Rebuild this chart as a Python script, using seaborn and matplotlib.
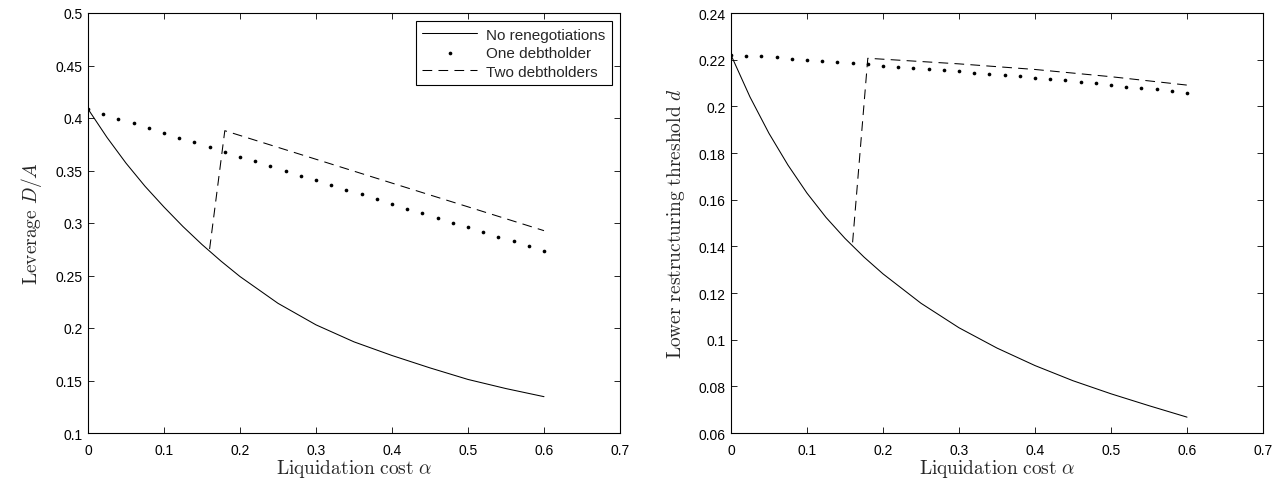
import numpy as np
import pandas as pd
import matplotlib
matplotlib.use("Agg")
import matplotlib.pyplot as plt
from matplotlib.ticker import FuncFormatter
import seaborn as sns

# liquidation cost grid for the smooth "no renegotiation" curves
alpha_smooth = [0.0, 0.025, 0.05, 0.075, 0.10, 0.125, 0.15, 0.175, 0.20,
                0.25, 0.30, 0.35, 0.40, 0.45, 0.50, 0.55, 0.60]
lev_none = [0.4086, 0.3815, 0.3570, 0.3350, 0.3152, 0.2966, 0.2795, 0.2637, 0.2490,
            0.2235, 0.2030, 0.1868, 0.1738, 0.1620, 0.1510, 0.1423, 0.1346]
thr_none = [0.2220, 0.2040, 0.1884, 0.1748, 0.1628, 0.1524, 0.1434, 0.1354, 0.1282,
            0.1156, 0.1051, 0.0964, 0.0889, 0.0824, 0.0768, 0.0717, 0.0668]

# one debtholder: dots every 0.02
alpha_dots = [0.00, 0.02, 0.04, 0.06, 0.08, 0.10, 0.12, 0.14, 0.16, 0.18,
              0.20, 0.22, 0.24, 0.26, 0.28, 0.30, 0.32, 0.34, 0.36, 0.38,
              0.40, 0.42, 0.44, 0.46, 0.48, 0.50, 0.52, 0.54, 0.56, 0.58, 0.60]
lev_one = [0.4086, 0.4038, 0.3994, 0.3949, 0.3905, 0.3857, 0.3813, 0.3768, 0.3724, 0.3676,
           0.3632, 0.3587, 0.3540, 0.3495, 0.3451, 0.3406, 0.3362, 0.3317, 0.3273, 0.3229,
           0.3184, 0.3136, 0.3095, 0.3048, 0.3003, 0.2959, 0.2914, 0.2870, 0.2826, 0.2781, 0.2736]
thr_one = [0.2220, 0.2217, 0.2214, 0.2210, 0.2203, 0.2200, 0.2193, 0.2190, 0.2186, 0.2181,
           0.2174, 0.2170, 0.2164, 0.2160, 0.2156, 0.2150, 0.2144, 0.2139, 0.2134, 0.2129,
           0.2123, 0.2117, 0.2111, 0.2106, 0.2099, 0.2093, 0.2084, 0.2079, 0.2073, 0.2066, 0.2059]

# two debtholders: jump near alpha = 0.16-0.18
alpha_two = [0.16, 0.18, 0.30, 0.40, 0.50, 0.60]
lev_two = [0.2752, 0.3879, 0.3607, 0.3380, 0.3154, 0.2927]
thr_two = [0.1417, 0.2206, 0.2182, 0.2158, 0.2127, 0.2091]

x_ticks = [0, 0.1, 0.2, 0.3, 0.4, 0.5, 0.6, 0.7]
lev_ticks = [0.1, 0.15, 0.2, 0.25, 0.3, 0.35, 0.4, 0.45, 0.5]
thr_ticks = [0.06, 0.08, 0.1, 0.12, 0.14, 0.16, 0.18, 0.2, 0.22, 0.24]

sns.set_style("ticks")
plt.rcParams["font.family"] = ["Liberation Sans", "DejaVu Sans"]
plt.rcParams["mathtext.fontset"] = "cm"
plt.rcParams["lines.scale_dashes"] = False

fig = plt.figure(figsize=(12.77, 4.81), dpi=100)
ax1 = fig.add_axes([88 / 1277, 1 - 434 / 481, 532 / 1277, 420 / 481])
ax2 = fig.add_axes([731 / 1277, 1 - 434 / 481, 532 / 1277, 420 / 481])


def draw_panel(ax, none, one, two, ylim, yticks, ylabel, legend):
    sns.lineplot(x=alpha_smooth, y=none, color="k", lw=0.75, ax=ax,
                 label="No renegotiations", legend=False)
    sns.scatterplot(x=alpha_dots, y=one, color="k", s=7, linewidth=0, ax=ax,
                    label="One debtholder", legend=False)
    sns.lineplot(x=alpha_two, y=two, color="k", lw=0.75, ax=ax,
                 linestyle=(0, (7, 4.5)), label="Two debtholders", legend=False)
    ax.set_xlim(0, 0.7)
    ax.set_ylim(*ylim)
    ax.set_xticks(x_ticks)
    ax.set_yticks(yticks)
    fmt = FuncFormatter(lambda v, p: "%g" % round(v, 4))
    ax.xaxis.set_major_formatter(fmt)
    ax.yaxis.set_major_formatter(fmt)
    ax.tick_params(direction="in", length=4, width=0.6, top=True, right=True,
                   labelsize=10, colors="k")
    ax.tick_params(axis="y", pad=4)
    ax.tick_params(axis="x", pad=7)
    for sp in ax.spines.values():
        sp.set_visible(True)
        sp.set_linewidth(0.8)
        sp.set_color("k")
    ax.set_xlabel(r"$\mathrm{Liquidation\ cost}\ \alpha$", fontsize=14, labelpad=0)
    ax.set_ylabel(ylabel, fontsize=14, labelpad=8)
    if legend:
        leg = ax.legend(loc="upper right", frameon=True, fancybox=False, edgecolor="k",
                        framealpha=1, fontsize=11, handlelength=3.6, labelspacing=0.3,
                        borderpad=0.4, handletextpad=0.6, borderaxespad=0.55)
        leg.get_frame().set_linewidth(0.8)


draw_panel(ax1, lev_none, lev_one, lev_two, (0.1, 0.5), lev_ticks,
           r"$\mathrm{Leverage}\ D/A$", True)
draw_panel(ax2, thr_none, thr_one, thr_two, (0.06, 0.24), thr_ticks,
           r"$\mathrm{Lower\ restructuring\ threshold}\ d$", False)

fig.savefig("out.png", dpi=100)
